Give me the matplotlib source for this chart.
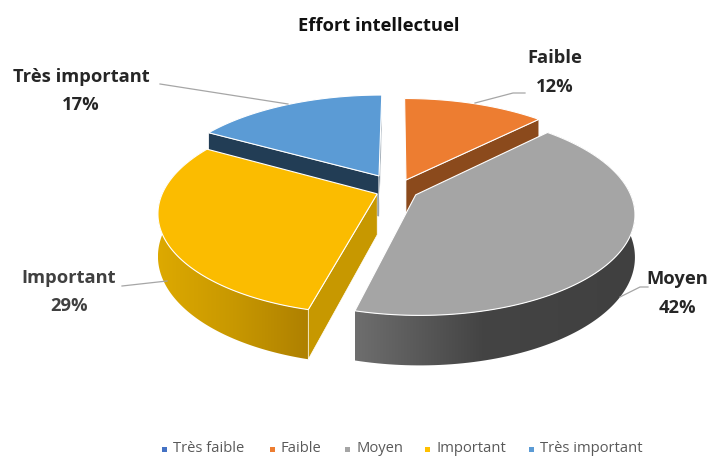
import numpy as np
import matplotlib
matplotlib.use("Agg")
import matplotlib.pyplot as plt
from matplotlib.colors import LinearSegmentedColormap
from matplotlib.patches import Polygon

categories = ["Très faible", "Faible", "Moyen", "Important", "Très important"]
shares = [0, 12.4, 41.6, 29.2, 16.8]
explode = [0.0, 0.11, 0.10, 0.10, 0.166]

top_colors = ["#4472C4", "#ED7D31", "#A5A5A5", "#FBBC00", "#5B9BD5"]
wall_colors = ["#2A4578", "#8B4A1C", "#6E6E6E", "#C79800", "#223D55"]
legend_colors = ["#4472C4", "#ED7D31", "#A5A5A5", "#FFC000", "#5B9BD5"]

# perspective of the pie, in pixels
cx, cy = 397, 190
A, B, K = 215, 98, 0.18
DEPTH = 41
FONT = "Open Sans"


fig = plt.figure(figsize=(7.2, 4.57), dpi=100)
ax = fig.add_axes([0, 0, 1, 1])
ax.set_xlim(0, 720)
ax.set_ylim(457, 0)
ax.axis("off")

# slice angles, clockwise from the top
edges = np.radians(np.cumsum([0] + shares) * 3.6)
slices = {}
for i, name in enumerate(categories):
    t0, t1 = edges[i], edges[i + 1]
    if t1 <= t0:
        continue
    mid = (t0 + t1) / 2
    ex, ey = explode[i] * A * np.sin(mid), -explode[i] * B * np.cos(mid)
    ts = np.linspace(t0, t1, 120)
    w = 1 + K * np.cos(ts)
    x = cx + (ex + A * np.sin(ts)) / w
    y = cy + (ey - B * np.cos(ts)) / w
    slices[name] = dict(apex=(cx + ex, cy + ey), x=x, y=y, d=DEPTH / w,
                        color=top_colors[i], wall=wall_colors[i])


def radial_wall(s, end):
    px, py = s["apex"]
    pts = [(px, py), (s["x"][end], s["y"][end]),
           (s["x"][end], s["y"][end] + s["d"][end]), (px, py + DEPTH)]
    ax.add_patch(Polygon(pts, closed=True, facecolor=s["wall"], edgecolor="white", lw=0.5))


def outer_wall(s, stops):
    upper = np.column_stack([s["x"], s["y"]])
    lower = np.column_stack([s["x"], s["y"] + s["d"]])[::-1]
    clip = Polygon(np.vstack([upper, lower]), closed=True, facecolor="none", edgecolor="none")
    ax.add_patch(clip)
    cmap = LinearSegmentedColormap.from_list("wall", stops)
    grad = np.linspace(0, 1, 256)[None, :]
    im = ax.imshow(grad, cmap=cmap, aspect="auto", interpolation="bilinear",
                   extent=[s["x"].min(), s["x"].max(), 400, 100])
    im.set_clip_path(clip)
    ax.set_xlim(0, 720)
    ax.set_ylim(457, 0)


def top_face(s):
    pts = np.vstack([[s["apex"]], np.column_stack([s["x"], s["y"]])])
    ax.add_patch(Polygon(pts, closed=True, facecolor=s["color"], edgecolor="white", lw=0.8))


# back to front
blue = slices["Très important"]
radial_wall(blue, 0)
radial_wall(blue, -1)
top_face(blue)

orange = slices["Faible"]
radial_wall(orange, -1)
top_face(orange)

yellow = slices["Important"]
outer_wall(yellow, ["#DDA900", "#C89800", "#AE8000"])
radial_wall(yellow, 0)
top_face(yellow)

gray = slices["Moyen"]
outer_wall(gray, [(0, "#6E6E6E"), (0.45, "#444444"), (1, "#404040")])
top_face(gray)

# leader lines
leaders = [
    ([160, 288], [84, 104]),
    ([475, 513, 525], [103, 93, 93]),
    ([620, 640, 648], [297, 287, 287]),
    ([122, 167], [286, 281]),
]
for lx, ly in leaders:
    ax.plot(lx, ly, color="#A6A6A6", lw=0.9, zorder=1)

# data labels
label_names = ["Faible", "Moyen", "Important", "Très important"]
label_values = ["12%", "42%", "29%", "17%"]
label_pos = [(555, 58, 87), (677, 279, 308), (69, 278, 306), (81, 77, 105)]
label_colors = ["#262626", "#262626", "#404040", "#262626"]
for name, val, (lx, y1, y2), col in zip(label_names, label_values, label_pos, label_colors):
    ax.text(lx, y1, name, ha="center", va="center", fontsize=13.2, fontweight="bold",
            family=FONT, color=col)
    ax.text(lx, y2, val, ha="center", va="center", fontsize=13.2, fontweight="bold",
            family=FONT, color=col)

ax.text(379, 26, "Effort intellectuel", ha="center", va="center", fontsize=13.2,
        fontweight="bold", family=FONT, color="#111111")

# legend
legend_x = [164, 272, 347, 427, 531]
for name, col, lx in zip(categories, legend_colors, legend_x):
    ax.plot([lx], [449], marker="s", ms=3.6, color=col, mew=0)
    ax.text(lx + 9, 449, name, ha="left", va="center", fontsize=10.6,
            family=FONT, color="#595959")

fig.savefig("out.png", dpi=100)
